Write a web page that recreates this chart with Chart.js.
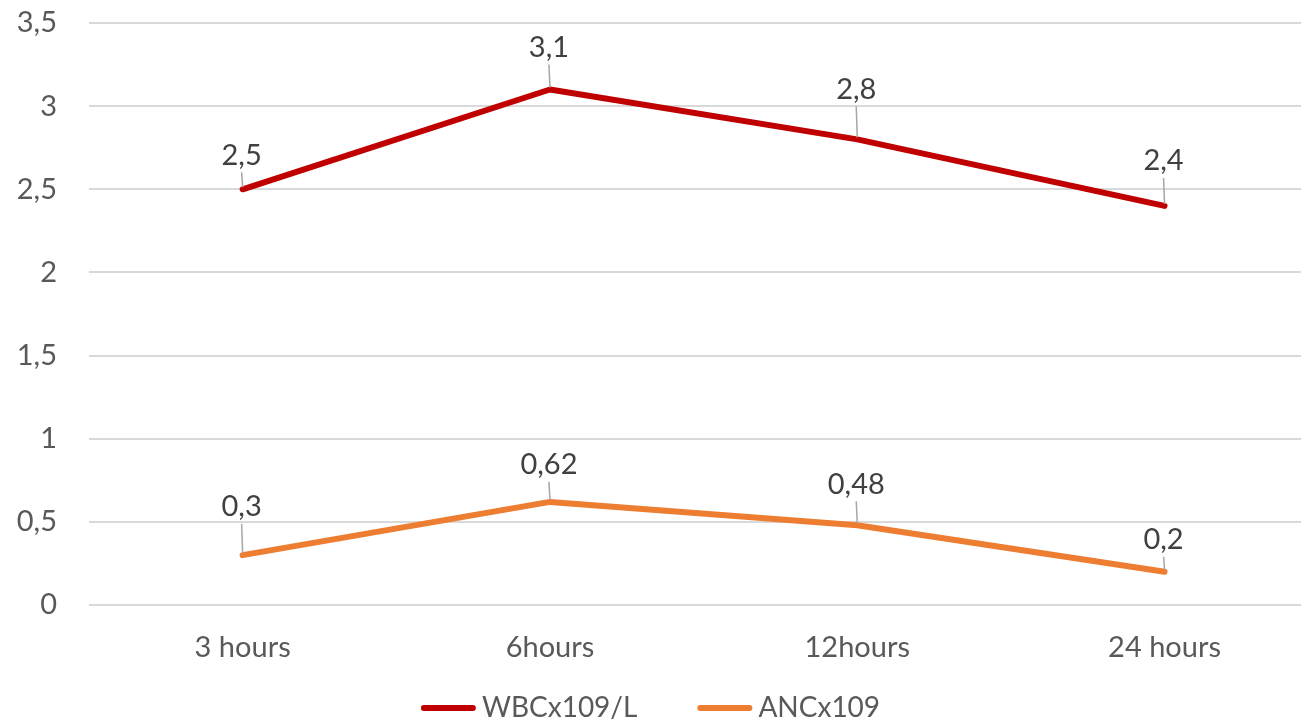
<!DOCTYPE html>
<html>
<head>
<meta charset="utf-8">
<script src="https://cdn.jsdelivr.net/npm/chart.js@4"></script>
<style>
  html, body { margin: 0; padding: 0; background: #fff; overflow: hidden; }
  #wrap { width: 1301px; height: 724px; position: relative; }
</style>
</head>
<body>
<div id="wrap"><canvas id="chart"></canvas></div>
<script>
  const categories = ['3 hours', '6hours', '12hours', '24 hours'];
  const wbcValues = [2.5, 3.1, 2.8, 2.4];
  const ancValues = [0.3, 0.62, 0.48, 0.2];
  const yTicks = [0, 0.5, 1, 1.5, 2, 2.5, 3, 3.5];

  // how far each value label sits above its point
  const wbcLabelLift = [34, 42, 50, 45];
  const ancLabelLift = [48, 37, 41, 32];

  const FONT = 'Lato, "Open Sans", sans-serif';
  const FONT_SIZE = 29;

  function fmt(v) {
    return String(v).replace('.', ',');
  }

  // value labels with a short grey leader line down to the point
  const valueLabels = {
    id: 'valueLabels',
    afterDatasetsDraw(chart) {
      const ctx = chart.ctx;
      ctx.save();
      ctx.font = FONT_SIZE + 'px ' + FONT;
      ctx.textAlign = 'center';
      ctx.textBaseline = 'middle';
      chart.data.datasets.forEach((ds, di) => {
        const meta = chart.getDatasetMeta(di);
        meta.data.forEach((pt, i) => {
          const lift = ds.labelLift[i];
          const tx = pt.x - 1;
          const ty = pt.y - lift;
          if (lift > 30) {
            ctx.strokeStyle = '#a6a6a6';
            ctx.lineWidth = 1.5;
            ctx.beginPath();
            ctx.moveTo(tx, ty + 17);
            ctx.lineTo(pt.x, pt.y - 2);
            ctx.stroke();
          }
          ctx.fillStyle = '#404040';
          ctx.fillText(fmt(ds.data[i].y), tx, ty);
        });
      });
      ctx.restore();
    }
  };

  // bottom legend: line swatch + label, items centred as a group
  const lineLegend = {
    id: 'lineLegend',
    afterDraw(chart) {
      const ctx = chart.ctx;
      const swatch = 55, gap = 6, between = 60;
      const y = chart.height - 16;
      ctx.save();
      ctx.font = '28px ' + FONT;
      ctx.textBaseline = 'middle';
      const items = chart.data.datasets.map(ds => ({
        text: ds.label,
        color: ds.borderColor,
        w: swatch + gap + ctx.measureText(ds.label).width
      }));
      const total = items.reduce((s, it) => s + it.w, 0) + between * (items.length - 1);
      let x = (chart.width - total) / 2;
      items.forEach(it => {
        ctx.strokeStyle = it.color;
        ctx.lineWidth = 6;
        ctx.lineCap = 'round';
        ctx.beginPath();
        ctx.moveTo(x + 3, y);
        ctx.lineTo(x + swatch - 3, y);
        ctx.stroke();
        ctx.fillStyle = '#595959';
        ctx.fillText(it.text, x + swatch + gap, y);
        x += it.w + between;
      });
      ctx.restore();
    }
  };

  new Chart(document.getElementById('chart'), {
    type: 'line',
    data: {
      datasets: [
        {
          label: 'WBCx109/L',
          data: wbcValues.map((v, i) => ({ x: i, y: v })),
          labelLift: wbcLabelLift,
          borderColor: '#c00000',
          backgroundColor: '#c00000',
          borderWidth: 6,
          borderCapStyle: 'round',
          borderJoinStyle: 'round',
          pointRadius: 0,
          tension: 0
        },
        {
          label: 'ANCx109',
          data: ancValues.map((v, i) => ({ x: i, y: v })),
          labelLift: ancLabelLift,
          borderColor: '#ed7d31',
          backgroundColor: '#ed7d31',
          borderWidth: 6,
          borderCapStyle: 'round',
          borderJoinStyle: 'round',
          pointRadius: 0,
          tension: 0
        }
      ]
    },
    options: {
      responsive: true,
      maintainAspectRatio: false,
      animation: false,
      layout: { padding: { top: 23, right: 0, left: 0, bottom: 35 } },
      plugins: {
        tooltip: { enabled: false },
        legend: { display: false }
      },
      scales: {
        x: {
          type: 'linear',
          min: -0.5,
          max: 3.444,
          afterBuildTicks: scale => {
            scale.ticks = categories.map((c, i) => ({ value: i }));
          },
          afterFit: scale => {
            scale.height = 84;
            scale.paddingLeft = 0;
            scale.paddingRight = 0;
          },
          grid: { display: false },
          border: { display: false },
          ticks: {
            padding: 17,
            color: '#595959',
            font: { family: FONT, size: FONT_SIZE },
            callback: v => categories[v] ?? ''
          }
        },
        y: {
          min: 0,
          max: 3.5,
          afterBuildTicks: scale => {
            scale.ticks = yTicks.map(v => ({ value: v }));
          },
          afterFit: scale => {
            scale.width = 89;
            scale.paddingTop = 0;
            scale.paddingBottom = 0;
          },
          grid: { color: '#d9d9d9', lineWidth: 2, drawTicks: false },
          border: { display: false },
          ticks: {
            padding: 32,
            color: '#595959',
            font: { family: FONT, size: FONT_SIZE },
            callback: v => fmt(v)
          }
        }
      }
    },
    plugins: [valueLabels, lineLegend]
  });
</script>
</body>
</html>
